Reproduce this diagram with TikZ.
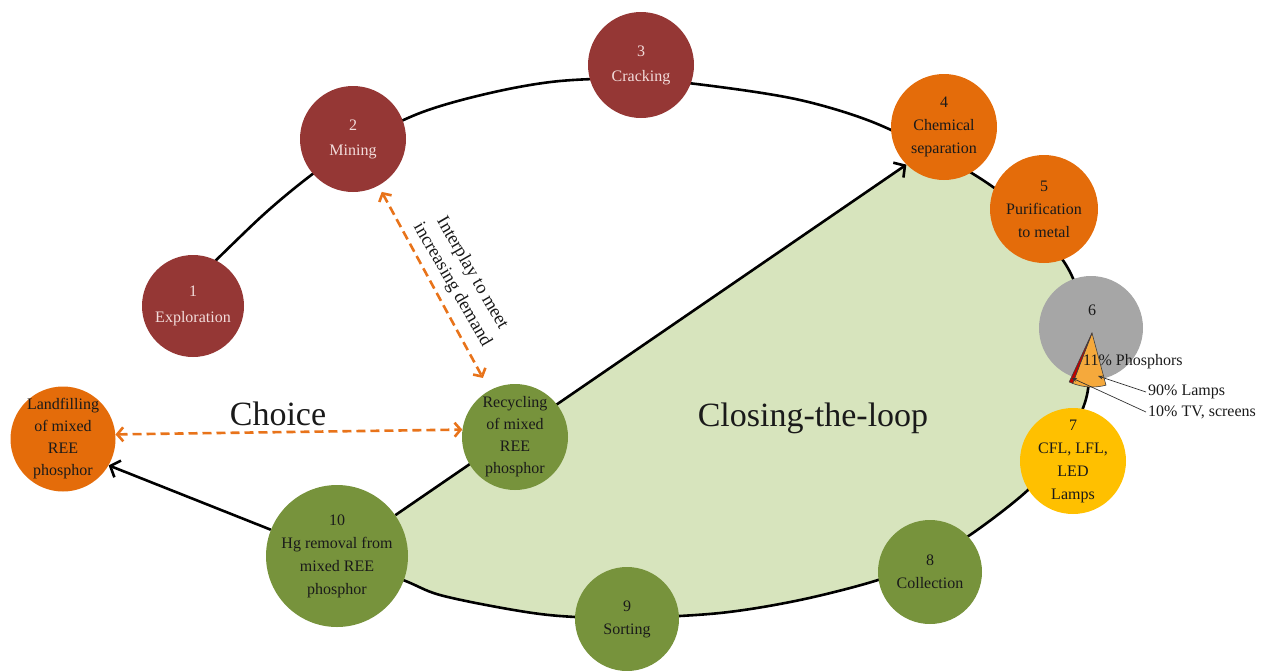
\documentclass[tikz,border=0pt]{standalone}
\usepackage{fontspec}
\setmainfont{Liberation Serif}
\usetikzlibrary{arrows.meta,backgrounds,calc}
\definecolor{brn}{HTML}{953735}
\definecolor{org}{HTML}{E46C0A}
\definecolor{olv}{HTML}{77933C}
\definecolor{lgrn}{HTML}{D7E4BD}
\definecolor{gry}{HTML}{A6A6A6}
\definecolor{ylw}{HTML}{FFC000}
\definecolor{redsl}{HTML}{C00000}
\definecolor{orgsl}{HTML}{F5A93C}
\definecolor{dashorange}{HTML}{E8731A}
\definecolor{lighttxt}{HTML}{F2DCDB}
\definecolor{darktxt}{HTML}{1A1A1A}
\begin{document}
\begin{tikzpicture}[x=1pt,y=-1pt,
  stage/.style={circle, minimum size=106pt, inner sep=-4pt, align=center,
    font=\fontsize{16}{23}\selectfont, text=darktxt},
  loopline/.style={line width=2.6pt, black},
  blkarrow/.style={line width=2.6pt, black, -{Straight Barb[length=8pt,width=18pt]}},
  dasharrow/.style={draw=dashorange, line width=2.6pt, dash pattern=on 9pt off 5pt,
    {Straight Barb[length=6pt,width=14pt]}-{Straight Barb[length=6pt,width=14pt]}},
  biglabel/.style={font=\fontsize{34}{40}\selectfont, text=darktxt, anchor=base},
  pielabel/.style={font=\fontsize{16}{19}\selectfont, text=darktxt, anchor=west, inner sep=2pt},
  leader/.style={line width=0.7pt, draw=black!80, -{Stealth[length=5pt,width=4pt]}}]
\useasboundingbox (0,0) rectangle (1270,670);

% stages
\node[stage, fill=brn, text=lighttxt, minimum size=102pt] (n1) at (193,306) {1\\[3pt]Exploration};
\node[stage, fill=brn, text=lighttxt] (n2) at (353,139) {2\\[2pt]Mining};
\node[stage, fill=brn, text=lighttxt] (n3) at (641,65) {3\\[2pt]Cracking};
\node[stage, fill=org] (n4) at (944,127) {4\\Chemical\\separation};
\node[stage, fill=org, minimum size=108pt] (n5) at (1044,209) {5\\Purification\\to metal};
\node[stage, fill=gry, minimum size=104pt] (n6) at (1091,328) {};
\node[font=\fontsize{16}{19}\selectfont, text=darktxt] (n6t) at (1092,310) {6};
\node[stage, fill=ylw] (n7) at (1073,461) {7\\CFL, LFL,\\LED\\Lamps};
\node[stage, fill=olv, minimum size=104pt] (n8) at (930,572) {8\\Collection};
\node[stage, fill=olv, minimum size=104pt] (n9) at (627,619) {9\\Sorting};
\node[stage, fill=olv, minimum size=142pt] (n10) at (337,556) {10\\Hg removal from\\mixed REE\\phosphor};
\node[stage, fill=olv, font=\fontsize{16}{22}\selectfont] (rec) at (515,437) {Recycling\\of mixed\\REE\\phosphor};
\node[stage, fill=org, font=\fontsize{16}{22}\selectfont, minimum size=105pt] (land) at (63,439) {Landfilling\\of mixed\\REE\\phosphor};

% background: green region, loop, black arrows
\begin{scope}[on background layer]
  \coordinate (c1) at ($(n10.35)!-0.6!(n4.225)$);
  \coordinate (c2) at ($(n10.35)!1.6!(n4.225)$);
  \begin{scope}
    \clip (c1) -- (c2) -- (1400,-45) -- (1400,800) -- (88,800) -- cycle;
    \fill[lgrn] plot[smooth, tension=0.55] coordinates {(200,276) (262,216) (310,176) (355,145) (420,113) (490,93) (560,81) (640,79) (720,87) (800,100) (870,121) (935,152) (993,187) (1032,222) (1070,272) (1087,330) (1087,395) (1061,450) (1028,490) (970,535) (925,560) (878,580) (800,600) (720,613) (627,618) (560,616) (508,609) (440,595) (403,580) (337,556)} -- cycle;
  \end{scope}
  \draw[loopline] plot[smooth, tension=0.55] coordinates {(200,276) (262,216) (310,176) (355,145) (420,113) (490,93) (560,81) (640,79) (720,87) (800,100) (870,121) (935,152) (993,187) (1032,222) (1070,272) (1087,330) (1087,395) (1061,450) (1028,490) (970,535) (925,560) (878,580) (800,600) (720,613) (627,618) (560,616) (508,609) (440,595) (403,580) (337,556)};
  \draw[blkarrow] (n10.35) -- (n4.225);
  \draw[blkarrow] (n10) -- (land.-30);
\end{scope}

% orange dashed arrows
\draw[dasharrow, shorten <=7pt, shorten >=14pt] (n2) -- (rec);
\draw[dasharrow] (land.5) -- (rec.172);

% texts
\node[rotate=-60, align=center, font=\fontsize{18.5}{23}\selectfont, text=darktxt] (inter) at (462,279) {Interplay to meet\\increasing demand};
\node[biglabel] (choice) at (278,425) {Choice};
\node[biglabel] (loop) at (813,426) {Closing-the-loop};

% pie wedge in stage 6
\coordinate (apex) at (1092,333);
\filldraw[fill=orgsl, draw=black!75, line width=0.6pt] (apex) -- ++(75:54) arc (75:111:54) -- cycle;
\filldraw[fill=redsl, draw=black!75, line width=0.6pt] (apex) -- ++(111:54) arc (111:115:54) -- cycle;
\node[pielabel] (l11) at (1081,362) {11\% Phosphors};
\node[pielabel] (l90) at (1146,392) {90\% Lamps};
\node[pielabel] (l10) at (1146,412) {10\% TV, screens};
\coordinate (p90) at (1098,376);
\coordinate (p10) at (1072,378);
\draw[leader] (l90.west) -- (p90);
\draw[leader] (l10.west) -- (p10);
\end{tikzpicture}
\end{document}
